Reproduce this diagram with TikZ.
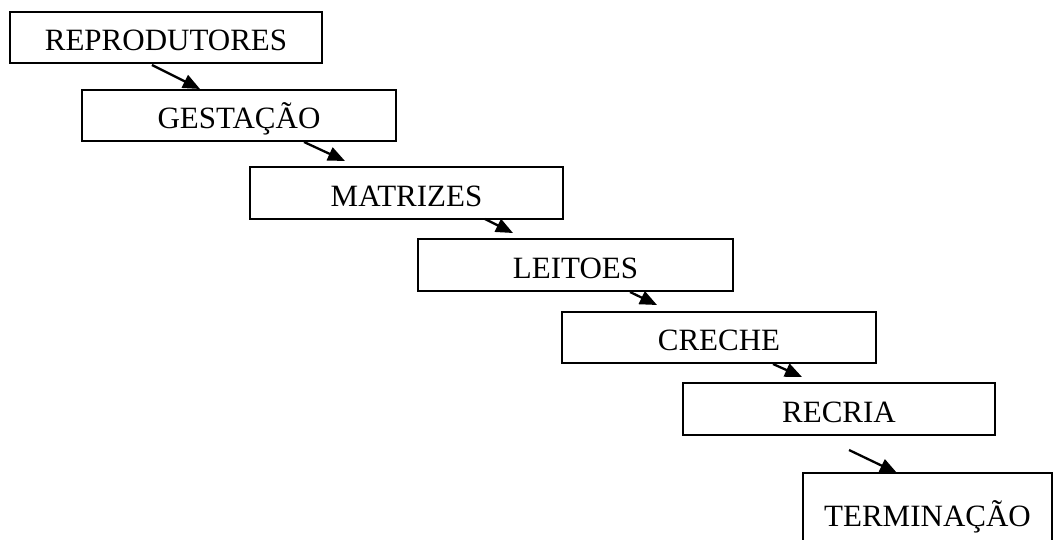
\documentclass[tikz,border=0pt]{standalone}
\usepackage{fontspec}
\setmainfont{Liberation Serif}
\usetikzlibrary{arrows.meta,calc}
\newcommand{\stagefont}{\fontsize{31}{36}\selectfont}
\tikzset{
  stage/.style={draw, line width=1.3pt, inner sep=0pt, outer sep=0pt,
    minimum width=313pt, minimum height=51pt, text height=27pt, text depth=0pt,
    font=\stagefont},
  flow/.style={line width=2.3pt, -{Triangle[length=17pt,width=14pt]}}
}
\begin{document}
\begin{tikzpicture}[x=1pt,y=1pt]
\clip (0,0) rectangle (1054,540);
\fill[white] (0,0) rectangle (1054,540);
\node[stage, minimum width=312pt] (A) at (166,502.5) {REPRODUTORES};
\node[stage, minimum width=314pt] (B) at (239,424.5) {GESTAÇÃO};
\node[stage, minimum height=52pt] (C) at (406.5,347) {MATRIZES};
\node[stage, minimum width=315pt, minimum height=52pt] (D) at (575.5,275) {LEITOES};
\node[stage, minimum width=314pt] (E) at (719,202.5) {CRECHE};
\node[stage, minimum width=312pt, minimum height=52pt] (F) at (839,131) {RECRIA};
\node[stage, minimum width=249pt, minimum height=80pt] (G) at (927.5,27) {TERMINAÇÃO};
\draw[flow] ($(A.south west)+(142,-2)$) -- ($(B.north west)+(118,1)$);
\draw[flow] ($(B.south west)+(222,-1)$) -- ($(C.north west)+(95,6)$);
\draw[flow] ($(C.south west)+(235,0)$) -- ($(D.north west)+(95,6)$);
\draw[flow] ($(D.south west)+(212,-1)$) -- ($(E.north west)+(95,7)$);
\draw[flow] ($(E.south west)+(211,-1)$) -- ($(F.north west)+(119,6)$);
\draw[flow] ($(F.south west)+(166,-15)$) -- ($(G.north west)+(94,0)$);
\end{tikzpicture}
\end{document}
